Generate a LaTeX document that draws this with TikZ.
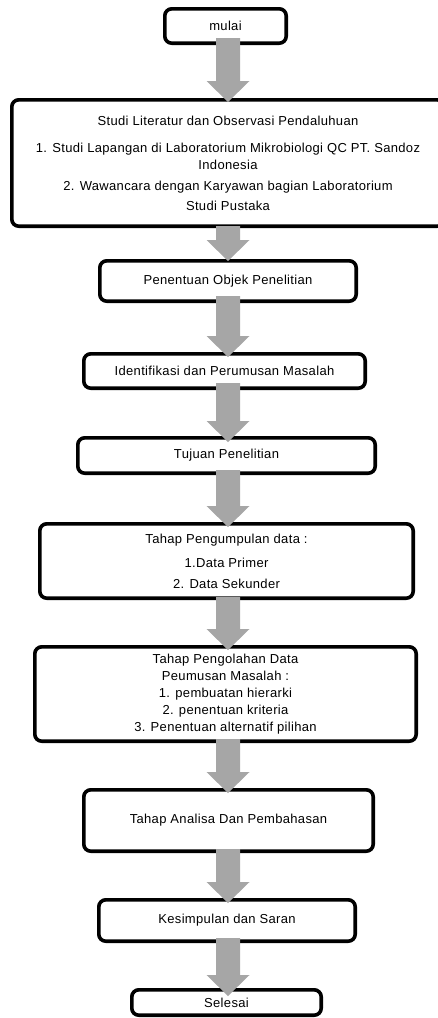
\documentclass[tikz,border=0pt]{standalone}
\usepackage{fontspec}
\setmainfont{Liberation Sans}[LetterSpace=2.6]
\usetikzlibrary{calc}
\definecolor{arrowgray}{RGB}{166,166,166}
\tikzset{
  box/.style={draw=black, line width=3.6pt, rounded corners=7pt, fill=white,
    inner sep=0pt, align=center, font=\fontsize{13}{17}\selectfont},
  blockarrow/.style={to path={
    let \p1=(\tikztostart), \p2=(\tikztotarget) in
    (\x1-12pt,\y1) -- (\x1+12pt,\y1) -- (\x1+12pt,\y2+21pt) -- (\x1+21.5pt,\y2+21pt)
    -- (\x1,\y2) -- (\x1-21.5pt,\y2+21pt) -- (\x1-12pt,\y2+21pt) -- cycle}}
}
\begin{document}
\begin{tikzpicture}[x=1pt,y=-1pt]
\useasboundingbox (0,0) rectangle (437,1018);
\coordinate (ax) at (228,0);
\node[box, minimum width=121.4pt, minimum height=34.4pt] (n1) at (225.5,26) {mulai};
\node[box, minimum width=432.4pt, minimum height=126.4pt] (n2) at (228,163)
  {Studi Literatur dan Observasi Pendaluhuan\\[10pt]
   1. Studi Lapangan di Laboratorium Mikrobiologi QC PT. Sandoz\\
   Indonesia\\[4pt]
   2. Wawancara dengan Karyawan bagian Laboratorium\\[3pt]
   Studi Pustaka};
\node[box, minimum width=256.4pt, minimum height=40.4pt] (n3) at (228,281) {Penentuan Objek Penelitian};
\node[box, minimum width=281.4pt, minimum height=34.4pt] (n4) at (224.5,371) {Identifikasi dan Perumusan Masalah};
\node[box, minimum width=297.4pt, minimum height=35.4pt] (n5) at (226.5,455.5) {Tujuan Penelitian};
\node[box, minimum width=373.4pt, minimum height=74.4pt] (n6) at (226.5,561)
  {Tahap Pengumpulan data :\\[7pt]
   1.Data Primer\\[4pt]
   2. Data Sekunder};
\node[box, minimum width=381.4pt, minimum height=94.4pt] (n7) at (225.5,694)
  {Tahap Pengolahan Data\\
   Peumusan Masalah :\\
   1. pembuatan hierarki\\
   2. penentuan kriteria\\
   3. Penentuan alternatif pilihan};
\node[box, minimum width=289.4pt, minimum height=61.4pt] (n8) at (228.5,820.5) {Tahap Analisa Dan Pembahasan};
\node[box, minimum width=256.4pt, minimum height=41.4pt] (n9) at (227,920.5) {Kesimpulan dan Saran};
\node[box, minimum width=189.4pt, minimum height=25.4pt] (n10) at (226.5,1002.5) {Selesai};
\fill[arrowgray] ($(n1.south -| ax)+(0,7pt)$) to[blockarrow] ($(n2.north -| ax)+(0,-4pt)$);
\fill[arrowgray] ($(n2.south -| ax)+(0,2pt)$) to[blockarrow] ($(n3.north -| ax)+(0,-2pt)$);
\fill[arrowgray] ($(n3.south -| ax)+(0,7pt)$) to[blockarrow] ($(n4.north -| ax)+(0,-5pt)$);
\fill[arrowgray] ($(n4.south -| ax)+(0,7pt)$) to[blockarrow] ($(n5.north -| ax)+(0,-6pt)$);
\fill[arrowgray] ($(n5.south -| ax)+(0,5pt)$) to[blockarrow] ($(n6.north -| ax)+(0,-5pt)$);
\fill[arrowgray] ($(n6.south -| ax)+(0,3pt)$) to[blockarrow] ($(n7.north -| ax)+(0,-5pt)$);
\fill[arrowgray] ($(n7.south -| ax)+(0,4pt)$) to[blockarrow] ($(n8.north -| ax)+(0,-5pt)$);
\fill[arrowgray] ($(n8.south -| ax)+(0,4pt)$) to[blockarrow] ($(n9.north -| ax)+(0,-5pt)$);
\fill[arrowgray] ($(n9.south -| ax)+(0,5pt)$) to[blockarrow] ($(n10.north -| ax)+(0,-8pt)$);
\end{tikzpicture}
\end{document}
